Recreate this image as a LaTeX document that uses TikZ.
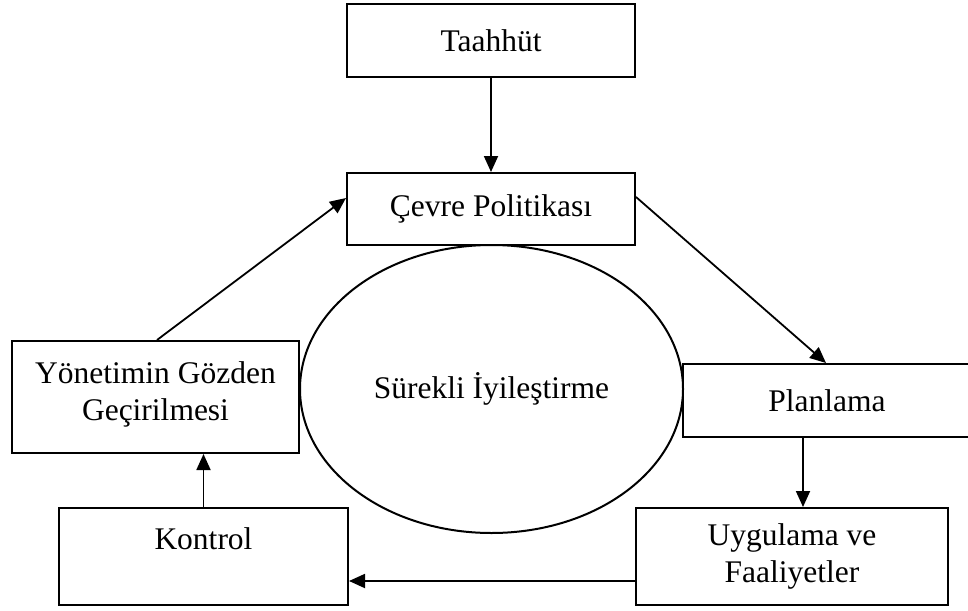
\documentclass[tikz,border=0pt]{standalone}
\usepackage{fontspec}
\setmainfont{Liberation Serif}
\usetikzlibrary{arrows.meta,shapes.geometric}
\begin{document}
\begin{tikzpicture}[x=1pt,y=-1pt,
  box/.style={draw,line width=2pt,rectangle,inner sep=0pt,align=center,
    font=\fontsize{31.5}{37}\selectfont},
  conn/.style={line width=1.8pt,-{Triangle[length=16pt,width=14pt]}},
  lbl/.style={align=center,font=\fontsize{31.5}{37}\selectfont,inner sep=0pt}]
\useasboundingbox (0,0) rectangle (968,610);
\node[box,minimum width=288pt,minimum height=73pt] (taahhut) at (491,40.5) {Taahhüt};
\node[box,minimum width=288pt,minimum height=72pt] (cevre) at (491,209) {Çevre Politikası};
\node[draw,line width=2pt,ellipse,minimum width=383pt,minimum height=288pt,inner sep=0pt,
  font=\fontsize{31.5}{37}\selectfont] (surekli) at (491.5,389) {Sürekli İyileştirme};
\node[box,minimum width=287pt,minimum height=112pt] (yonetim) at (155.5,397) {};
\node[lbl] (yonetimtxt) at ([yshift=3pt]yonetim.center) {Yönetimin Gözden\\Geçirilmesi};
\node[box,minimum width=288pt,minimum height=73pt] (planlama) at (827,400.5) {Planlama};
\node[box,minimum width=289pt,minimum height=97pt] (kontrol) at (203.5,556.5) {};
\node[lbl] (kontroltxt) at ([yshift=17.5pt]kontrol.center) {Kontrol};
\node[box,minimum width=312pt,minimum height=97pt] (uyg) at (792,556.5) {Uygulama ve\\Faaliyetler};
\draw[conn] (taahhut.south) -- (cevre.north);
\draw[conn] ([yshift=12pt]cevre.east) -- ([xshift=144pt]planlama.north west);
\draw[conn] ([xshift=1.5pt]yonetim.north) -- ([yshift=11pt]cevre.west);
\draw[conn] ([xshift=11pt]uyg.north |- planlama.south) -- ([xshift=11pt]uyg.north);
\draw[conn] ([yshift=-24.5pt]uyg.west) -- ([yshift=-24.5pt]kontrol.east);
\draw[conn] (kontrol.north) -- (kontrol.north |- yonetim.south);
\end{tikzpicture}
\end{document}
